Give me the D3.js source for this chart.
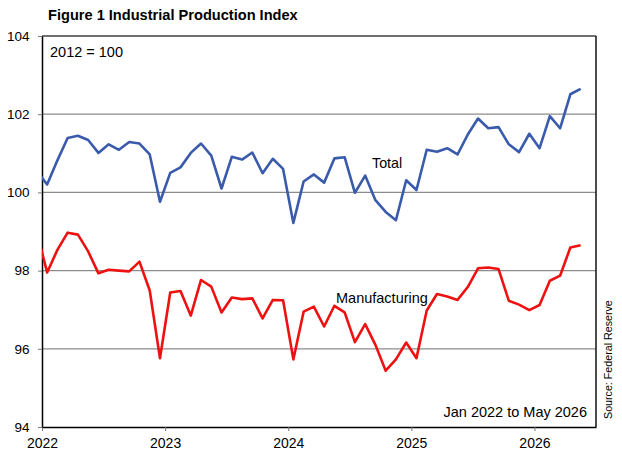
<!DOCTYPE html>
<html>
<head>
<meta charset="utf-8">
<script src="https://cdn.jsdelivr.net/npm/d3@7"></script>
<style>
  body { margin: 0; background: #fff; }
  svg { font-family: Arial, "Liberation Sans", sans-serif; display: block; }
</style>
</head>
<body>
<script>
// monthly index values, Dec 2021 (clipped at the axis) through May 2026
const startYear = 2021
const startMonth = 11 // December, 0-based
const total = [100.55,
  100.20, 100.82, 101.39, 101.45, 101.34, 101.01, 101.23, 101.09, 101.29, 101.25, 100.97, 99.76,
  100.50, 100.64, 101.01, 101.25, 100.94, 100.10, 100.91, 100.84, 101.02, 100.49, 100.86, 100.60,
  99.22, 100.28, 100.46, 100.25, 100.87, 100.90, 99.99, 100.43, 99.80, 99.50, 99.29, 100.31,
  100.06, 101.09, 101.04, 101.13, 100.97, 101.48, 101.89, 101.64, 101.67, 101.23, 101.03, 101.50,
  101.13, 101.95, 101.64, 102.51, 102.65]
const manufacturing = [98.99,
  97.95, 98.53, 98.97, 98.92, 98.49, 97.93, 98.02, 98.00, 97.98, 98.23, 97.49, 95.76,
  97.44, 97.48, 96.85, 97.76, 97.59, 96.93, 97.31, 97.27, 97.29, 96.78, 97.25, 97.24,
  95.73, 96.95, 97.08, 96.57, 97.10, 96.93, 96.17, 96.63, 96.10, 95.44, 95.73, 96.16,
  95.76, 96.98, 97.40, 97.34, 97.25, 97.58, 98.06, 98.08, 98.04, 97.23, 97.13, 96.99,
  97.12, 97.74, 97.87, 98.59, 98.65]
const yearTicks = [2022, 2023, 2024, 2025, 2026]
const yTicks = [94, 96, 98, 100, 102, 104]

const w = 622
const h = 456
const m = { left: 42, top: 36, right: 596, bottom: 427 }

const svg = d3.select("body").append("svg").attr("width", w).attr("height", h)

// x in months since Jan 2022; each value sits mid-month
const monthIdx = i => (startYear - 2022) * 12 + startMonth + i + 0.5
const x = d3.scaleLinear().domain([0, 54]).range([m.left, m.right])
const y = d3.scaleLinear().domain([94, 104]).range([m.bottom, m.top])

svg.append("defs").append("clipPath").attr("id", "plot")
  .append("rect").attr("x", m.left).attr("y", m.top).attr("width", m.right - m.left).attr("height", m.bottom - m.top)

// grid
svg.append("g").selectAll("line").data(yTicks.slice(1, -1)).enter().append("line")
  .attr("x1", m.left).attr("x2", m.right).attr("y1", d => y(d)).attr("y2", d => y(d))
  .attr("stroke", "#8c8c8c").attr("stroke-width", 1.3)

// frame: top and right
svg.append("line").attr("x1", m.left).attr("x2", m.right).attr("y1", m.top).attr("y2", m.top).attr("stroke", "#404040").attr("stroke-width", 1.3)
svg.append("line").attr("x1", m.right).attr("x2", m.right).attr("y1", m.top).attr("y2", m.bottom).attr("stroke", "#111").attr("stroke-width", 1.5)

const xAxis = svg.append("g").attr("transform", "translate(0," + m.bottom + ")")
  .call(d3.axisBottom(x).tickValues(yearTicks.map(yr => (yr - 2022) * 12)).tickFormat((d, i) => yearTicks[i]).tickSize(4).tickSizeOuter(0))
const yAxis = svg.append("g").attr("transform", "translate(" + m.left + ",0)")
  .call(d3.axisLeft(y).tickValues(yTicks).tickSize(4).tickSizeOuter(0))

;[xAxis, yAxis].forEach(a => {
  a.select(".domain").attr("stroke", "#000").attr("stroke-width", 1.5)
  a.selectAll(".tick line").attr("stroke", "#777").attr("stroke-width", 1)
  a.selectAll(".tick text").attr("font-family", null).attr("fill", "#000")
})
xAxis.selectAll(".tick text").attr("font-size", 14).attr("y", 11).attr("dy", "0.71em")
yAxis.selectAll(".tick text").attr("font-size", 13.5).attr("x", -12.5)

const line = d3.line().x((d, i) => x(monthIdx(i))).y(d => y(d))
const lines = svg.append("g").attr("clip-path", "url(#plot)")
lines.append("path").datum(total).attr("d", line).attr("fill", "none").attr("stroke", "#3a5bab").attr("stroke-width", 2.6).attr("stroke-linejoin", "round")
lines.append("path").datum(manufacturing).attr("d", line).attr("fill", "none").attr("stroke", "#ee1111").attr("stroke-width", 2.6).attr("stroke-linejoin", "round")

// texts
svg.append("text").attr("x", 48).attr("y", 19.5).attr("font-size", 14.6).attr("font-weight", "bold").text("Figure 1 Industrial Production Index")
svg.append("text").attr("x", 50).attr("y", 57).attr("font-size", 14.5).text("2012 = 100")
svg.append("text").attr("x", 372).attr("y", 168).attr("font-size", 14.3).text("Total")
svg.append("text").attr("x", 336).attr("y", 303).attr("font-size", 14.5).text("Manufacturing")
svg.append("text").attr("x", 587).attr("y", 417).attr("font-size", 14.5).attr("text-anchor", "end").text("Jan 2022 to May 2026")
svg.append("text").attr("transform", "translate(612,419) rotate(-90)").attr("font-size", 10.7).text("Source: Federal Reserve")
</script>
</body>
</html>
